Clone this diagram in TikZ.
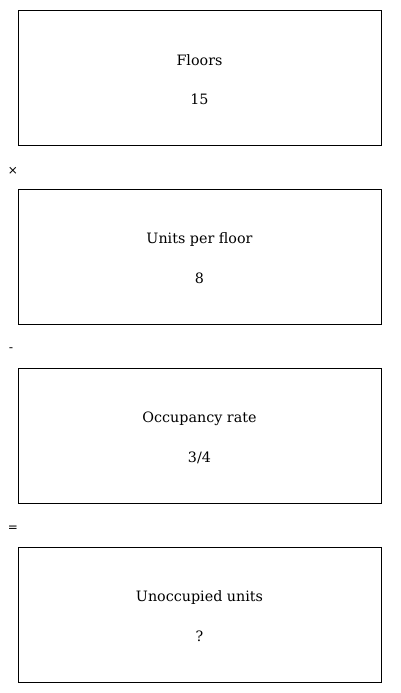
\documentclass[tikz,border=0pt]{standalone}
\usepackage{fontspec}
\setmainfont{DejaVu Serif}
\newfontfamily\opfont{DejaVu Sans}
\begin{document}
\begin{tikzpicture}[x=1pt,y=-1pt,
  box/.style={draw=black,line width=1pt,minimum width=363pt,minimum height=135pt,inner sep=0pt},
  lbl/.style={font=\fontsize{14.3}{16}\selectfont,inner sep=0pt},
  op/.style={font=\opfont\fontsize{12}{14}\selectfont,inner sep=0pt}]
\useasboundingbox (0,0) rectangle (400,693);
\node[box] (b1) at (199.5,78) {};
\node[box] (b2) at (199.5,257) {};
\node[box] (b3) at (199.5,436) {};
\node[box] (b4) at (199.5,615) {};
\node[lbl] (t1) at (199.5,60.5) {Floors};
\node[lbl] (v1) at (199.5,99.5) {15};
\node[lbl] (t2) at (199.5,239.5) {Units per floor};
\node[lbl] (v2) at (199.5,278.5) {8};
\node[lbl] (t3) at (199.5,418.5) {Occupancy rate};
\node[lbl] (v3) at (199.5,457.5) {3/4};
\node[lbl] (t4) at (199.5,597.5) {Unoccupied units};
\node[lbl] (v4) at (199.5,636.5) {?};
\node[op] (o1) at (13,171) {×};
\node[op] (o2) at (11,350) {-};
\node[op] (o3) at (13,529) {=};
\end{tikzpicture}
\end{document}
